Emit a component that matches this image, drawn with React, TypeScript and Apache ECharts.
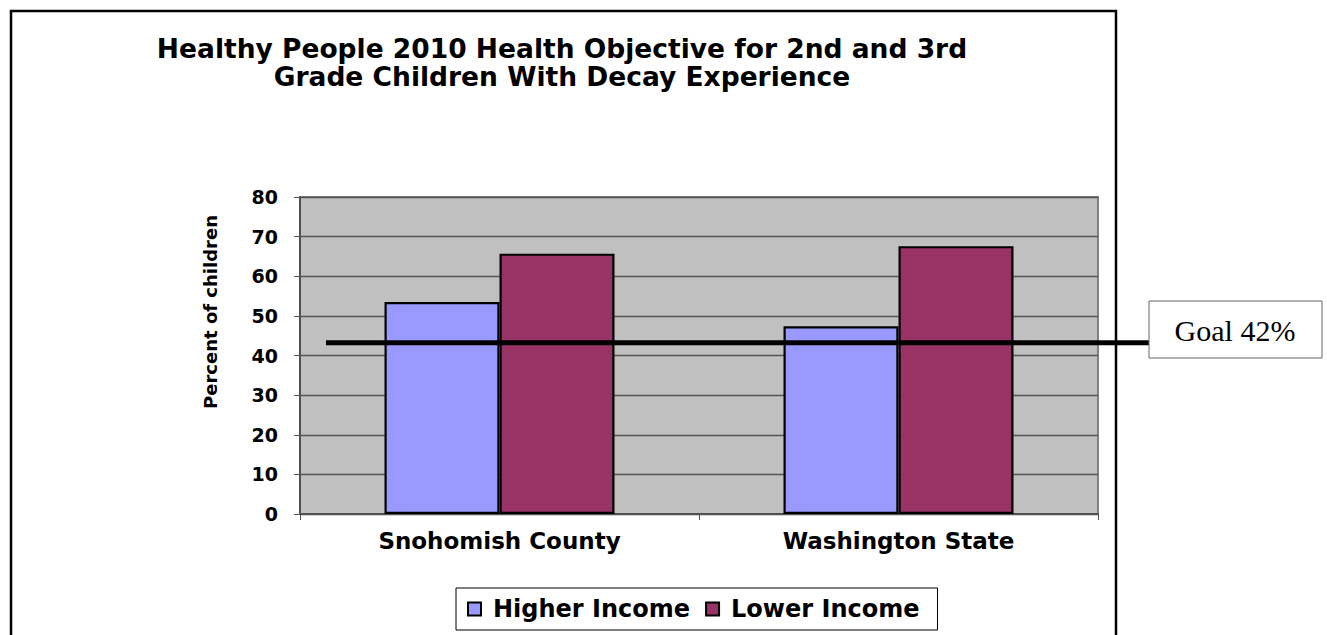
import React, { useEffect, useRef } from "react";
import * as echarts from "echarts";

const titleLines = [
  "Healthy People 2010 Health Objective for 2nd and 3rd",
  "Grade Children With Decay Experience",
];
const categories = ["Snohomish County", "Washington State"];
const seriesNames = ["Higher Income", "Lower Income"];
const higherIncome = [53.5, 47.4];
const lowerIncome = [65.7, 67.6];
const yTicks = { min: 0, max: 80, interval: 10 };
const yAxisTitle = "Percent of children";
const goalLabel = "Goal 42%";
const goalLineLevel = 43.2;

const FONT = "'DejaVu Sans', sans-serif";

export default function App() {
  const ref = useRef<HTMLDivElement>(null);
  useEffect(() => {
    if (!ref.current) return;
    const chart = echarts.init(ref.current, undefined, { renderer: "svg" });
    chart.setOption({
      animation: false,
      backgroundColor: "#ffffff",
      title: {
        text: titleLines.join("\n"),
        left: 557,
        top: 29,
        textAlign: "center",
        textStyle: {
          fontFamily: FONT,
          fontWeight: "bold",
          fontSize: 26.5,
          lineHeight: 28,
          color: "#000",
        },
      },
      legend: {
        left: 456,
        top: 588,
        orient: "horizontal",
        icon: "rect",
        itemWidth: 13,
        itemHeight: 13,
        itemGap: 15,
        padding: [9, 18, 9, 11],
        borderColor: "#000",
        borderWidth: 1,
        backgroundColor: "#fff",
        textStyle: {
          fontFamily: FONT,
          fontWeight: "bold",
          fontSize: 24,
          color: "#000",
          padding: [0, 0, 0, 7],
        },
        data: seriesNames,
      },
      grid: {
        left: 300,
        top: 197,
        right: 229,
        bottom: 121,
        show: true,
        backgroundColor: "#C0C0C0",
        borderColor: "#808080",
        borderWidth: 2,
      },
      xAxis: {
        type: "category",
        data: categories,
        axisLine: { show: true, lineStyle: { color: "#505050", width: 2 } },
        axisTick: { show: true, length: 6, lineStyle: { color: "#505050", width: 1 } },
        axisLabel: {
          fontFamily: FONT,
          fontWeight: "bold",
          fontSize: 23,
          color: "#000",
          margin: 15,
        },
        splitLine: { show: false },
      },
      yAxis: {
        type: "value",
        min: yTicks.min,
        max: yTicks.max,
        interval: yTicks.interval,
        axisLine: { show: true, lineStyle: { color: "#505050", width: 2 } },
        axisTick: { show: true, length: 6, lineStyle: { color: "#505050", width: 1 } },
        axisLabel: {
          fontFamily: FONT,
          fontWeight: "bold",
          fontSize: 19,
          color: "#000",
          margin: 22,
        },
        splitLine: { show: true, lineStyle: { color: "#555555", width: 1.4 } },
      },
      series: [
        {
          name: seriesNames[0],
          type: "bar",
          data: higherIncome,
          barWidth: 115,
          barGap: "0%",
          itemStyle: { color: "#9999FF", borderColor: "#000", borderWidth: 2.2 },
        },
        {
          name: seriesNames[1],
          type: "bar",
          data: lowerIncome,
          barWidth: 115,
          barGap: "0%",
          itemStyle: { color: "#993366", borderColor: "#000", borderWidth: 2.2 },
        },
      ],
    });
    const goalY = chart.convertToPixel({ yAxisIndex: 0 }, goalLineLevel) as number;
    chart.setOption({
      graphic: [
        {
          type: "rect",
          shape: { x: 11, y: 11, width: 1105, height: 660 },
          style: { fill: "none", stroke: "#000", lineWidth: 2.5 },
          z: 100,
          silent: true,
        },
        {
          type: "text",
          x: 210,
          y: 312,
          rotation: Math.PI / 2,
          style: {
            text: yAxisTitle,
            fontFamily: FONT,
            fontWeight: "bold",
            fontSize: 18,
            fill: "#000",
            align: "center",
            verticalAlign: "middle",
          },
          z: 100,
        },
        {
          type: "line",
          shape: { x1: 326, y1: goalY, x2: 1149, y2: goalY },
          style: { stroke: "#000", lineWidth: 5 },
          z: 100,
          silent: true,
        },
        {
          type: "rect",
          shape: { x: 1149, y: 301, width: 173, height: 57 },
          style: { fill: "#fff", stroke: "#666", lineWidth: 1 },
          z: 101,
        },
        {
          type: "text",
          x: 1235,
          y: 330,
          style: {
            text: goalLabel,
            fontFamily: "'Liberation Serif', 'Times New Roman', serif",
            fontSize: 30,
            fill: "#000",
            align: "center",
            verticalAlign: "middle",
          },
          z: 102,
        },
      ],
    });
    return () => chart.dispose();
  }, []);
  return (
    <div
      ref={ref}
      style={{ position: "fixed", left: 0, top: 0, width: 1327, height: 635 }}
    />
  );
}
